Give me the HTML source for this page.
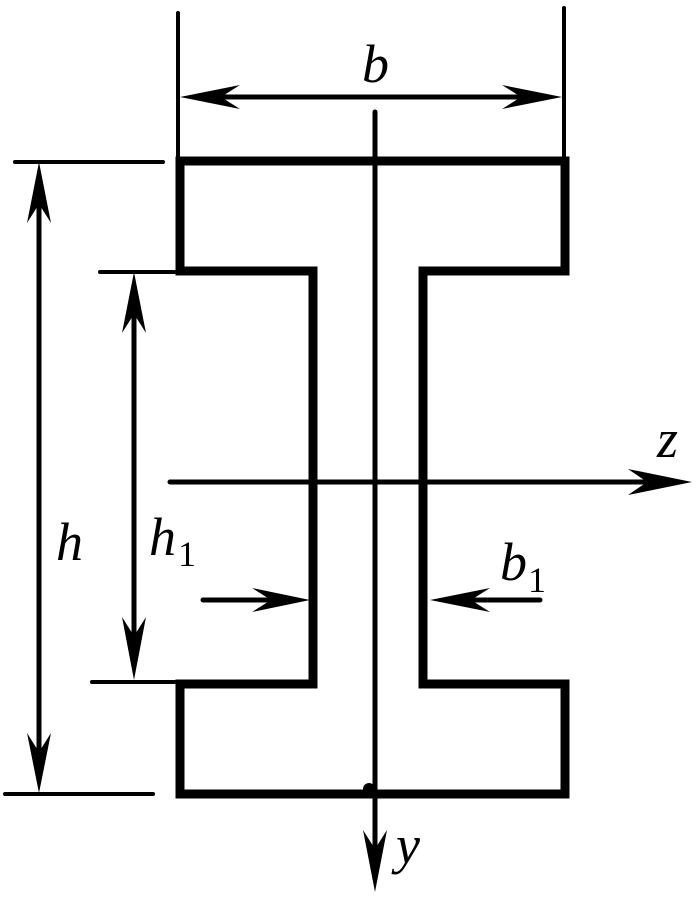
<!DOCTYPE html>
<html>
<head>
<meta charset="utf-8">
<style>
html,body{margin:0;padding:0;background:#fff;}
svg{display:block;}
.t{font-family:"Liberation Serif","Noto Serif CJK SC","DejaVu Serif",serif;font-style:italic;font-size:54px;fill:#000;}
.s{font-family:"Liberation Serif","Noto Serif CJK SC","DejaVu Serif",serif;font-size:36px;fill:#000;}
</style>
</head>
<body>
<svg width="700" height="898" viewBox="0 0 700 898" xmlns="http://www.w3.org/2000/svg">
  <!-- I-section outline -->
  <path d="M180,161 H565 V271 H423 V684 H565 V794 H180 V684 H313 V271 H180 Z" fill="none" stroke="#000" stroke-width="9" stroke-linejoin="miter"/>

  <!-- extension lines -->
  <g stroke="#000" stroke-width="4" stroke-linecap="round">
    <line x1="178" y1="13" x2="178" y2="161"/>
    <line x1="564" y1="8" x2="564" y2="161"/>
    <line x1="15" y1="162" x2="163" y2="162"/>
    <line x1="5" y1="794" x2="153" y2="794"/>
    <line x1="100" y1="272" x2="176" y2="272"/>
    <line x1="92" y1="682" x2="176" y2="682"/>
  </g>

  <!-- dimension & axis lines -->
  <g stroke="#000" stroke-width="5" stroke-linecap="round">
    <line x1="200" y1="97" x2="545" y2="97"/>
    <line x1="39" y1="185" x2="39" y2="770"/>
    <line x1="134" y1="295" x2="134" y2="658"/>
    <line x1="203" y1="600" x2="290" y2="600"/>
    <line x1="450" y1="600" x2="540" y2="600"/>
    <line x1="170" y1="482" x2="670" y2="482"/>
    <line x1="375" y1="112" x2="375" y2="870"/>
  </g>

  <!-- arrowheads -->
  <g fill="#000">
    <polygon points="180,97 240,85 221,97 240,109"/>
    <polygon points="562,97 502,85 521,97 502,109"/>
    <polygon points="39,162 27,223 39,204 51,223"/>
    <polygon points="39,793 27,733 39,752 51,733"/>
    <polygon points="134,272 122,333 134,314 146,333"/>
    <polygon points="134,680 122,617 134,636 146,617"/>
    <polygon points="310,600 252,588 271,600 252,612"/>
    <polygon points="430,600 490,588 471,600 490,612"/>
    <polygon points="692,482 628,469 647,482 628,495"/>
    <polygon points="375,892 363,830 375,849 387,830"/>
    <circle cx="369" cy="789" r="6"/>
  </g>

  <!-- labels -->
  <text class="t" x="362" y="82">b</text>
  <text class="t" x="56" y="560">h</text>
  <text class="t" x="149" y="555">h</text>
  <text class="s" x="178" y="566">1</text>
  <text class="t" x="657" y="457">z</text>
  <text class="t" x="500" y="580">b</text>
  <text class="s" x="528" y="592">1</text>
  <text class="t" x="396" y="863">y</text>
</svg>
</body>
</html>
